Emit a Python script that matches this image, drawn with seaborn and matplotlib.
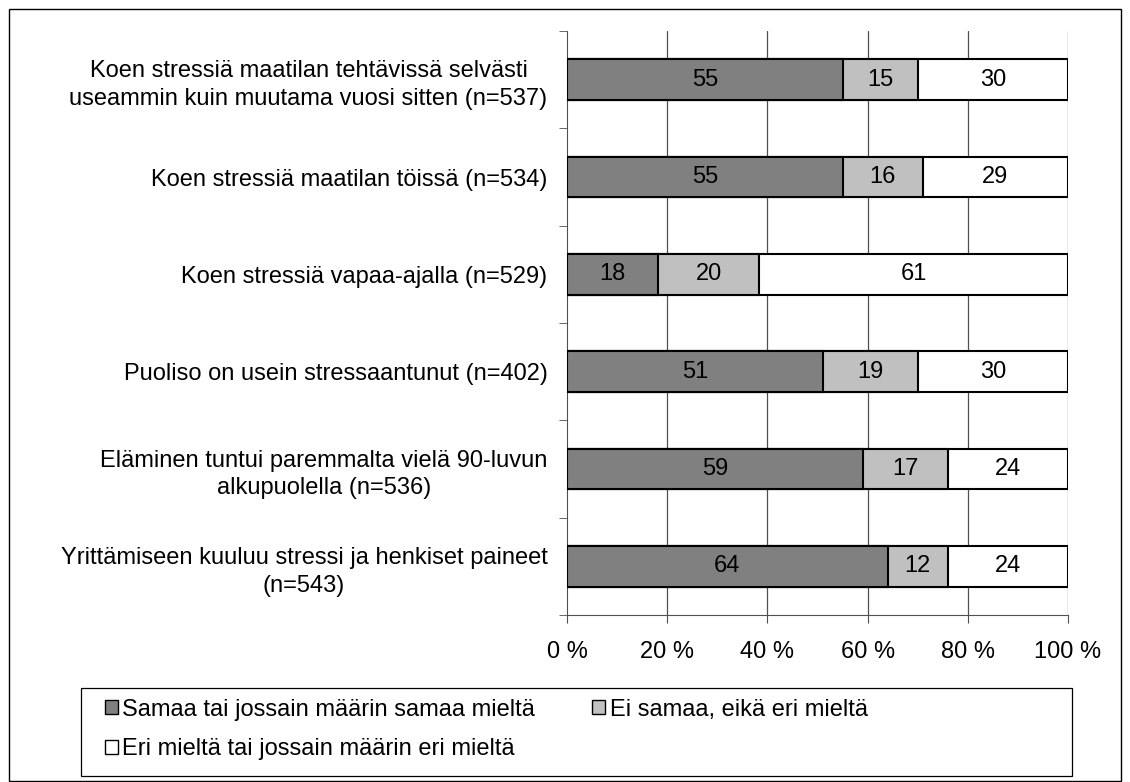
import pandas as pd
import seaborn as sns
import matplotlib.pyplot as plt
from matplotlib.patches import Patch, Rectangle

kysymykset = [
    "Koen stressiä maatilan tehtävissä selvästi\nuseammin kuin muutama vuosi sitten (n=537)",
    "Koen stressiä maatilan töissä (n=534)",
    "Koen stressiä vapaa-ajalla (n=529)",
    "Puoliso on usein stressaantunut (n=402)",
    "Eläminen tuntui paremmalta vielä 90-luvun\nalkupuolella (n=536)",
    "Yrittämiseen kuuluu stressi ja henkiset paineet\n(n=543)",
]
samaa = [55, 55, 18, 51, 59, 64]
ei_samaa_eika_eri = [15, 16, 20, 19, 17, 12]
eri = [30, 29, 61, 30, 24, 24]

sarjat = ["Samaa tai jossain määrin samaa mieltä",
          "Ei samaa, eikä eri mieltä",
          "Eri mieltä tai jossain määrin eri mieltä"]
varit = ["#808080", "#c0c0c0", "#ffffff"]

df = pd.DataFrame({"kysymys": kysymykset, "s1": samaa, "s2": ei_samaa_eika_eri, "s3": eri})
summa = df[["s1", "s2", "s3"]].sum(axis=1)
df["c1"] = df["s1"] / summa * 100
df["c2"] = (df["s1"] + df["s2"]) / summa * 100
df["c3"] = (df["s1"] + df["s2"] + df["s3"]) / summa * 100

sns.set_style("white")
plt.rcParams['font.family'] = ['Liberation Sans', 'DejaVu Sans']
plt.rcParams['text.color'] = 'black'
plt.rcParams['xtick.labelcolor'] = 'black'
plt.rcParams['ytick.labelcolor'] = 'black'
FS = 17

fig = plt.figure(figsize=(11.3, 7.82), dpi=100)
ax = fig.add_axes([567/1130, 1 - 615/782, (1068 - 567)/1130, (615 - 31)/782])

# pinotut palkit: kumulatiiviset summat suurimmasta pienimpään
for col, vari in zip(["c3", "c2", "c1"], varit[::-1]):
    sns.barplot(data=df, x=col, y="kysymys", orient="h", color=vari,
                edgecolor="black", linewidth=1.5, width=0.42, ax=ax, zorder=3,
                saturation=1)

for i, r in df.iterrows():
    ax.text(r["c1"] / 2, i, str(r["s1"]), ha="center", va="center", fontsize=FS, zorder=5)
    ax.text((r["c1"] + r["c2"]) / 2, i, str(r["s2"]), ha="center", va="center", fontsize=FS, zorder=5)
    ax.text((r["c2"] + r["c3"]) / 2, i, str(r["s3"]), ha="center", va="center", fontsize=FS, zorder=5)

ax.set_xlim(0, 100)
ax.set_ylim(5.5, -0.5)
ax.set_xticks([0, 20, 40, 60, 80, 100])
ax.set_xticklabels([f"{v} %" for v in [0, 20, 40, 60, 80, 100]], fontsize=FS)
ax.set_xlabel("")
ax.set_ylabel("")
for v in [20, 40, 60, 80, 100]:
    ax.axvline(v, color="#505050", linewidth=0.9, zorder=1)

ax.set_yticks(range(len(kysymykset)))
ax.set_yticklabels(kysymykset, fontsize=FS, multialignment="center", linespacing=1.35)
ax.set_yticks([i - 0.5 for i in range(len(kysymykset) + 1)], minor=True)
ax.tick_params(axis="y", which="major", length=0, pad=14)
ax.tick_params(axis="y", which="minor", length=6, color="#505050", direction="out", left=True)
ax.tick_params(axis="x", length=6, color="#505050", direction="out", bottom=True, pad=13)

for s in ["top", "right"]:
    ax.spines[s].set_visible(False)
ax.spines["left"].set_color("#505050")
ax.spines["bottom"].set_color("#505050")

kahvat = [Patch(facecolor=v, edgecolor="black", linewidth=1) for v in varit]
jarj = [0, 2, 1]
leg = fig.legend([kahvat[i] for i in jarj], [sarjat[i] for i in jarj], ncol=2,
                 loc="upper left", bbox_to_anchor=(100/1130, 1 - 694/782),
                 bbox_transform=fig.transFigure, fontsize=FS, frameon=False,
                 handlelength=0.55, handleheight=0.55, handletextpad=0.2,
                 borderaxespad=0, labelspacing=0.75, borderpad=0.2,
                 columnspacing=2.4)

# legendan kehys ja koko kuvan kehys
fig.patches.append(Rectangle((81/1130, 1 - 776/782), (1072 - 81)/1130, (776 - 688)/782,
                             transform=fig.transFigure, fill=False,
                             edgecolor="black", linewidth=0.9))
fig.patches.append(Rectangle((9/1130, 1/782), (1121 - 9)/1130, (781 - 9)/782,
                             transform=fig.transFigure, fill=False,
                             edgecolor="black", linewidth=1))

fig.savefig("out.png", dpi=100)
